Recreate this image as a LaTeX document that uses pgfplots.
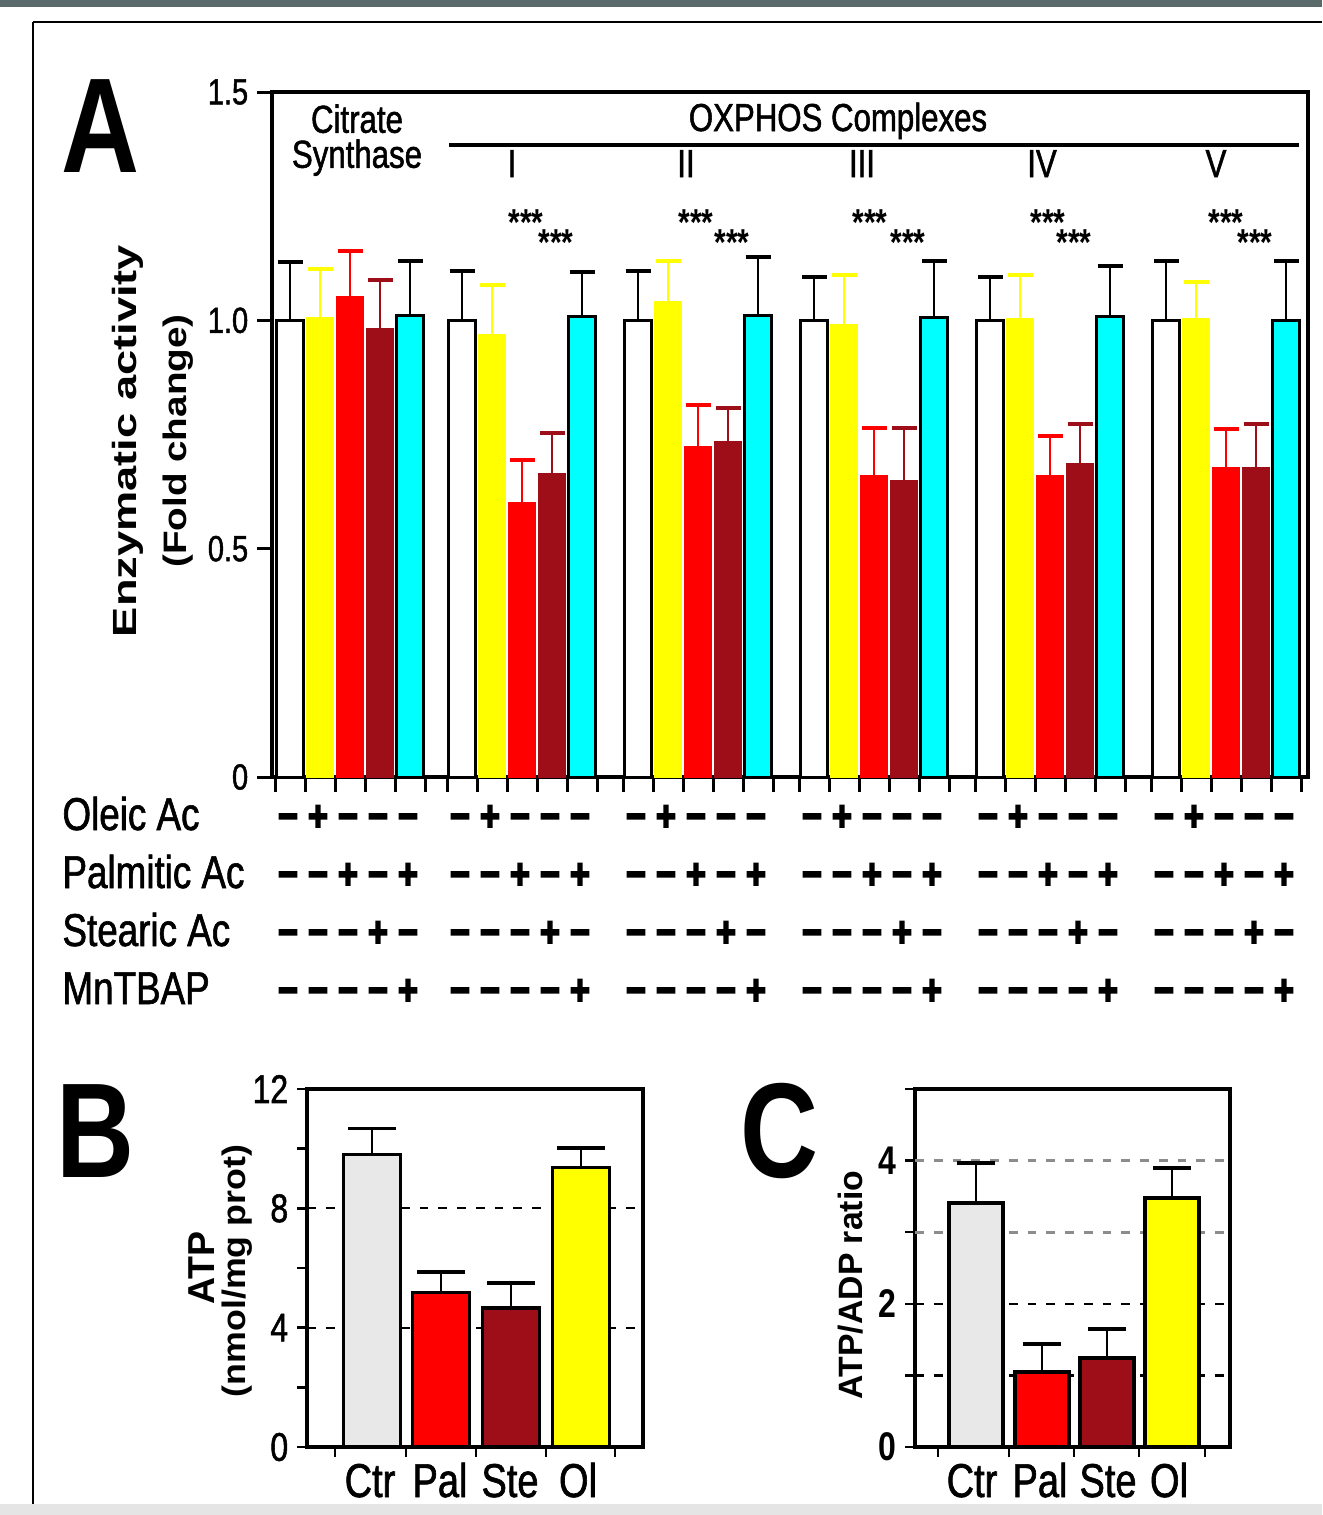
\documentclass[border=0pt]{standalone}
\usepackage{fontspec}
\setmainfont{Liberation Sans}
\newfontfamily\narrow[FakeStretch=0.8,FakeBold=1.3]{Liberation Sans}
\newfontfamily\narrowL[FakeStretch=0.8]{Liberation Sans}
\newfontfamily\signfont[FakeStretch=0.8,FakeBold=4]{Liberation Sans}
\usepackage{graphicx}
\usepackage{pgfplots}
\pgfplotsset{compat=1.18}
\definecolor{dred}{RGB}{158,14,24}
\definecolor{cy}{RGB}{0,255,255}
\definecolor{yl}{RGB}{255,255,0}
\definecolor{ctrgray}{RGB}{232,232,232}
\definecolor{band}{RGB}{90,106,106}
\newcommand\fs[1]{\fontsize{#1}{#1}\selectfont}
\newcommand\sg{\signfont\bfseries\fs{17}}
\newcommand\Pl{\raisebox{-0.34em}{+}}
\newcommand\Mn{\raisebox{-0.34em}{−}}
\newcommand\stars{\raisebox{-0.45em}[0.3em][0pt]{***}}
\tikzset{t/.style={inner sep=0pt}}
\newcommand\signrow[6]{\foreach \b in {290,462,638,814,990,1166}{%
  \node[t,anchor=base] at (\b-2,#1) {\sg #2};
  \node[t,anchor=base] at (\b+28,#1) {\sg #3};
  \node[t,anchor=base] at (\b+58,#1) {\sg #4};
  \node[t,anchor=base] at (\b+88,#1) {\sg #5};
  \node[t,anchor=base] at (\b+118,#1) {\sg #6};
}}
\begin{document}
\begin{tikzpicture}[x=0.4pt,y=-0.4pt]
\path[use as bounding box] (0,0) rectangle (1322,1515);
% outer frame
\fill[band] (0,0) rectangle (1322,7);
\fill[black!10] (0,1504) rectangle (1322,1515);
\draw[line width=0.9pt] (33,22) -- (1322,22);
\draw[line width=0.9pt] (33,22) -- (33,1504);

% ---------------- Panel A ----------------
\begin{axis}[
  at={(108.8pt,-310.8pt)}, anchor=south west,
  scale only axis, width=414.4pt, height=274pt,
  xmin=272, xmax=1308, ymin=0, ymax=1.5,
  axis line style={line width=1.4pt},
  xtick={275,305,335,365,395,425,447,477,507,537,567,597,623,653,683,713,743,773,799,829,859,889,919,949,975,1005,1035,1065,1095,1125,1151,1181,1211,1241,1271,1301},
  xticklabels={},
  ytick={0,0.5,1,1.5}, yticklabels={0,0.5,1.0,1.5},
  tick align=outside, xtick pos=bottom, ytick pos=left,
  major tick length=6pt,
  every tick/.style={black, line width=1.2pt},
  yticklabel style={font=\narrow\fs{14.5}},
  ybar, bar width=27, bar shift=0pt,
  error bars/y dir=plus, error bars/y explicit,
]
\addplot[fill=white, draw=black, line width=1.2pt,
  error bars/error bar style={black, line width=1pt},
  error bars/error mark options={rotate=90, black, line width=1.6pt, mark size=5pt}]
  coordinates {(290,1.0)+-(0,0.127) (462,1.0)+-(0,0.107) (638,1.0)+-(0,0.107) (814,1.0)+-(0,0.096) (990,1.0)+-(0,0.096) (1166,1.0)+-(0,0.13)};
\addplot[fill=yl, draw=yl, line width=0.4pt,
  error bars/error bar style={yl, line width=1pt},
  error bars/error mark options={rotate=90, yl, line width=1.6pt, mark size=5pt}]
  coordinates {(320,1.006)+-(0,0.106) (492,0.969)+-(0,0.108) (668,1.042)+-(0,0.088) (844,0.99)+-(0,0.11) (1020,1.005)+-(0,0.095) (1196,1.005)+-(0,0.078)};
\addplot[fill=red, draw=red, line width=0.4pt,
  error bars/error bar style={red, line width=1pt},
  error bars/error mark options={rotate=90, red, line width=1.6pt, mark size=5pt}]
  coordinates {(350,1.052)+-(0,0.10) (522,0.601)+-(0,0.094) (698,0.724)+-(0,0.09) (874,0.66)+-(0,0.105) (1050,0.66)+-(0,0.086) (1226,0.678)+-(0,0.083)};
\addplot[fill=dred, draw=dred, line width=0.4pt,
  error bars/error bar style={dred, line width=1pt},
  error bars/error mark options={rotate=90, dred, line width=1.6pt, mark size=5pt}]
  coordinates {(380,0.982)+-(0,0.106) (552,0.664)+-(0,0.09) (728,0.735)+-(0,0.072) (904,0.649)+-(0,0.116) (1080,0.686)+-(0,0.088) (1256,0.678)+-(0,0.096)};
\addplot[fill=cy, draw=black, line width=1.2pt,
  error bars/error bar style={black, line width=1pt},
  error bars/error mark options={rotate=90, black, line width=1.6pt, mark size=5pt}]
  coordinates {(410,1.01)+-(0,0.121) (582,1.009)+-(0,0.096) (758,1.01)+-(0,0.128) (934,1.006)+-(0,0.124) (1110,1.009)+-(0,0.109) (1286,1.0)+-(0,0.13)};
\end{axis}

% headings panel A
\node[t,anchor=north,align=center,font={\narrow\fontsize{15.6}{14}\selectfont}] at (357,104) {Citrate\\Synthase};
\node[t,anchor=base] at (838,131) {\narrow\fs{15.6}OXPHOS Complexes};
\draw[line width=1.3pt] (449,145) -- (1299,145);
\node[t,anchor=base] at (512,177) {\narrow\fs{15.6}I};
\node[t,anchor=base] at (686,177) {\narrow\fs{15.6}II};
\node[t,anchor=base] at (862,177) {\narrow\fs{15.6}III};
\node[t,anchor=base] at (1042,177) {\narrow\fs{15.6}IV};
\node[t,anchor=base] at (1216,177) {\narrow\fs{15.6}V};
% significance stars
\foreach \u/\l in {526/556, 696/732, 870/908, 1048/1074, 1226/1255}{
  \node[t,anchor=base] at (\u,219) {\narrowL\bfseries\fs{15}\stars};
  \node[t,anchor=base] at (\l,239) {\narrowL\bfseries\fs{15}\stars};
}
% panel letter and y labels
\node[t,anchor=base] at (100,172) {\narrowL\bfseries\fs{54}A};
\node[rotate=90] at (128,441) {\scalebox{1.35}[1]{\bfseries\fs{13.4}Enzymatic activity}};
\node[rotate=90] at (178,441) {\scalebox{1.19}[1]{\bfseries\fs{13}(Fold change)}};
% treatment table
\node[t,anchor=base west] at (62,830) {\narrow\fs{18.4}Oleic Ac};
\node[t,anchor=base west] at (62,888) {\narrow\fs{18.4}Palmitic Ac};
\node[t,anchor=base west] at (62,946) {\narrow\fs{18.4}Stearic Ac};
\node[t,anchor=base west] at (62,1004) {\narrow\fs{18.4}MnTBAP};
\signrow{816}{\Mn}{\Pl}{\Mn}{\Mn}{\Mn}
\signrow{874}{\Mn}{\Mn}{\Pl}{\Mn}{\Pl}
\signrow{932}{\Mn}{\Mn}{\Mn}{\Pl}{\Mn}
\signrow{990}{\Mn}{\Mn}{\Mn}{\Mn}{\Pl}

% ---------------- Panel B ----------------
\begin{axis}[
  at={(122.8pt,-578.8pt)}, anchor=south west,
  scale only axis, width=134.4pt, height=143.2pt,
  xmin=307, xmax=643, ymin=0, ymax=12,
  ytick={0,4,8,12}, yticklabels={0,4,8,12},
  minor ytick={2,6,10},
  xtick={335,406,476,546,615}, xticklabels={},
  tick align=outside, xtick pos=bottom, ytick pos=left,
  major tick length=4pt, minor tick length=4pt,
  every tick/.style={black, line width=1pt},
  ymajorgrids, major grid style={black, line width=0.9pt, dash pattern=on 3.5pt off 4pt},
  axis line style={line width=1.6pt},
  yticklabel style={font=\narrow\fs{16}},
  ybar, bar width=57, bar shift=0pt,
  error bars/y dir=plus, error bars/y explicit,
]
\addplot[fill=ctrgray, draw=black, line width=1.3pt,
  error bars/error bar style={black, line width=1pt},
  error bars/error mark options={rotate=90, black, line width=1.4pt, mark size=9.5pt}]
  coordinates {(372,9.8)+-(0,0.87)};
\addplot[fill=red, draw=black, line width=1.3pt,
  error bars/error bar style={black, line width=1pt},
  error bars/error mark options={rotate=90, black, line width=1.4pt, mark size=9.5pt}]
  coordinates {(441,5.17)+-(0,0.70)};
\addplot[fill=dred, draw=black, line width=1.3pt,
  error bars/error bar style={black, line width=1pt},
  error bars/error mark options={rotate=90, black, line width=1.4pt, mark size=9.5pt}]
  coordinates {(511,4.66)+-(0,0.84)};
\addplot[fill=yl, draw=black, line width=1.3pt,
  error bars/error bar style={black, line width=1pt},
  error bars/error mark options={rotate=90, black, line width=1.4pt, mark size=9.5pt}]
  coordinates {(581,9.36)+-(0,0.67)};
\end{axis}
\node[t,anchor=base] at (95,1177) {\narrowL\bfseries\fs{54}B};
\node[rotate=90] at (202,1268) {\bfseries\fs{15}ATP};
\node[rotate=90] at (237,1271) {\scalebox{1.1}[1]{\bfseries\fs{13}(nmol/mg prot)}};
\node[t,anchor=base] at (370,1497) {\narrow\fs{19}Ctr};
\node[t,anchor=base] at (440,1497) {\narrow\fs{19}Pal};
\node[t,anchor=base] at (510,1497) {\narrow\fs{19}Ste};
\node[t,anchor=base] at (578,1497) {\narrow\fs{19}Ol};

% ---------------- Panel C ----------------
\begin{axis}[
  at={(366pt,-578.8pt)}, anchor=south west,
  scale only axis, width=126pt, height=143.2pt,
  xmin=915, xmax=1230, ymin=0, ymax=5,
  ytick={0,1,2,5}, yticklabels={0,,2,},
  extra y ticks={3,4}, extra y tick labels={,4},
  extra y tick style={major grid style={black!45, line width=1.2pt, dash pattern=on 3.5pt off 4pt}},
  xtick={938,1009,1074,1139,1205}, xticklabels={},
  tick align=outside, xtick pos=bottom, ytick pos=left,
  major tick length=4pt,
  every tick/.style={black, line width=1pt},
  ymajorgrids, major grid style={black, line width=0.9pt, dash pattern=on 3.5pt off 4pt},
  axis line style={line width=1.6pt},
  yticklabel style={font=\narrowL\bfseries\fs{16}},
  ybar, bar width=54, bar shift=0pt,
  error bars/y dir=plus, error bars/y explicit,
]
\addplot[fill=ctrgray, draw=black, line width=1.5pt,
  error bars/error bar style={black, line width=1pt},
  error bars/error mark options={rotate=90, black, line width=1.4pt, mark size=7.5pt}]
  coordinates {(976,3.41)+-(0,0.56)};
\addplot[fill=red, draw=black, line width=1.5pt,
  error bars/error bar style={black, line width=1pt},
  error bars/error mark options={rotate=90, black, line width=1.4pt, mark size=7.5pt}]
  coordinates {(1042,1.05)+-(0,0.39)};
\addplot[fill=dred, draw=black, line width=1.5pt,
  error bars/error bar style={black, line width=1pt},
  error bars/error mark options={rotate=90, black, line width=1.4pt, mark size=7.5pt}]
  coordinates {(1107,1.245)+-(0,0.405)};
\addplot[fill=yl, draw=black, line width=1.5pt,
  error bars/error bar style={black, line width=1pt},
  error bars/error mark options={rotate=90, black, line width=1.4pt, mark size=7.5pt}]
  coordinates {(1172,3.48)+-(0,0.42)};
\end{axis}
\node[t,anchor=base] at (779,1177) {\narrowL\bfseries\fs{54}C};
\node[rotate=90] at (851,1285) {\bfseries\fs{13.5}ATP/ADP ratio};
\node[t,anchor=base] at (972,1497) {\narrow\fs{19}Ctr};
\node[t,anchor=base] at (1040,1497) {\narrow\fs{19}Pal};
\node[t,anchor=base] at (1108,1497) {\narrow\fs{19}Ste};
\node[t,anchor=base] at (1169,1497) {\narrow\fs{19}Ol};
\end{tikzpicture}
\end{document}
